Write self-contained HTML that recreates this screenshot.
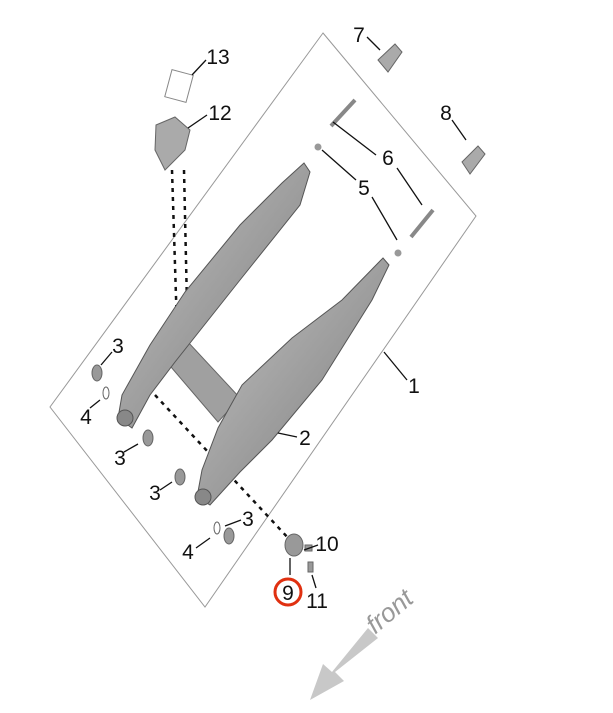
<!DOCTYPE html>
<html><head><style>body{margin:0;background:#fff}svg{display:block}</style></head><body>
<svg width="613" height="713" viewBox="0 0 613 713" xmlns="http://www.w3.org/2000/svg" font-family="Liberation Sans, sans-serif">
<defs><linearGradient id="g" x1="0" y1="0" x2="1" y2="1"><stop offset="0" stop-color="#c4c4c4"/><stop offset="1" stop-color="#7a7a7a"/></linearGradient></defs>
<polygon points="323,33 476,216 205,607 50,407" fill="none" stroke="#999" stroke-width="1"/>
<g stroke="#111" stroke-width="2.5" stroke-dasharray="4,5" fill="none">
<line x1="172" y1="170" x2="178" y2="360"/><line x1="184" y1="170" x2="188" y2="350"/>
<line x1="155" y1="395" x2="290" y2="540"/>
</g>
<polygon points="165,360 188,342 240,398 218,422" fill="#a0a0a0" stroke="#666"/>
<polygon points="118,418 132,428 150,395 175,362 240,280 300,205 310,172 304,163 282,183 240,225 185,292 150,345 122,395" fill="url(#g)" stroke="#555" stroke-width="1"/>
<polygon points="197,497 210,505 240,472 272,440 322,380 372,300 389,265 383,258 342,300 292,338 242,385 218,428 202,470" fill="url(#g)" stroke="#555" stroke-width="1"/>
<circle cx="125" cy="418" r="8" fill="#888" stroke="#555"/><circle cx="203" cy="497" r="8" fill="#888" stroke="#555"/>
<polygon points="156,125 175,117 190,130 185,150 165,170 155,150" fill="#aaa" stroke="#666"/>
<rect x="168" y="72" width="22" height="28" fill="none" stroke="#888" transform="rotate(15 179 86)"/>
<polygon points="378,60 395,44 402,52 388,72" fill="#aaa" stroke="#666"/>
<polygon points="462,162 478,146 485,154 470,174" fill="#aaa" stroke="#666"/>
<line x1="331" y1="126" x2="355" y2="100" stroke="#888" stroke-width="4"/>
<line x1="411" y1="237" x2="433" y2="210" stroke="#888" stroke-width="4"/>
<circle cx="318" cy="147" r="3.5" fill="#999"/><circle cx="398" cy="253" r="3.5" fill="#999"/>
<g fill="#999" stroke="#666"><ellipse cx="97" cy="373" rx="5" ry="8"/><ellipse cx="106" cy="393" rx="3" ry="6" fill="none"/><ellipse cx="148" cy="438" rx="5" ry="8"/><ellipse cx="180" cy="477" rx="5" ry="8"/><ellipse cx="217" cy="528" rx="3" ry="6" fill="none"/><ellipse cx="229" cy="536" rx="5" ry="8"/><ellipse cx="294" cy="545" rx="9" ry="11"/><rect x="305" y="545" width="7" height="6"/><rect x="308" y="562" width="5" height="10"/></g>
<g stroke="#111" stroke-width="1.3">
<line x1="192" y1="75" x2="206" y2="60"/><line x1="188" y1="128" x2="207" y2="115"/>
<line x1="367" y1="37" x2="380" y2="50"/><line x1="452" y1="120" x2="466" y2="140"/>
<line x1="333" y1="122" x2="376" y2="155"/><line x1="397" y1="168" x2="422" y2="205"/>
<line x1="322" y1="150" x2="356" y2="180"/><line x1="372" y1="197" x2="397" y2="240"/>
<line x1="384" y1="352" x2="407" y2="380"/><line x1="278" y1="433" x2="297" y2="437"/>
<line x1="101" y1="365" x2="112" y2="352"/><line x1="90" y1="408" x2="100" y2="400"/>
<line x1="124" y1="452" x2="138" y2="444"/><line x1="160" y1="490" x2="172" y2="482"/>
<line x1="225" y1="526" x2="241" y2="520"/><line x1="196" y1="548" x2="210" y2="538"/>
<line x1="304" y1="550" x2="318" y2="545"/><line x1="312" y1="575" x2="316" y2="588"/>
<line x1="290" y1="558" x2="290" y2="575"/>
</g>
<g font-size="21" fill="#111" text-anchor="middle">
<text x="218" y="64">13</text><text x="220" y="120">12</text><text x="359" y="42">7</text><text x="446" y="120">8</text><text x="388" y="165">6</text><text x="364" y="195">5</text><text x="414" y="393">1</text><text x="305" y="445">2</text><text x="118" y="353">3</text><text x="86" y="424">4</text><text x="120" y="465">3</text><text x="155" y="500">3</text><text x="248" y="526">3</text><text x="188" y="559">4</text><text x="327" y="551">10</text><text x="317" y="608">11</text><text x="288" y="600">9</text>
</g>
<circle cx="288" cy="592" r="13" fill="none" stroke="#e03010" stroke-width="3"/>
<polygon points="368,628 378,638 335,672 344,681 310,700 323,664 332,672" fill="#c8c8c8"/>
<text x="395" y="618" font-size="26" font-style="italic" fill="#999" transform="rotate(-40 395 618)" text-anchor="middle">front</text>
</svg>
</body></html>
